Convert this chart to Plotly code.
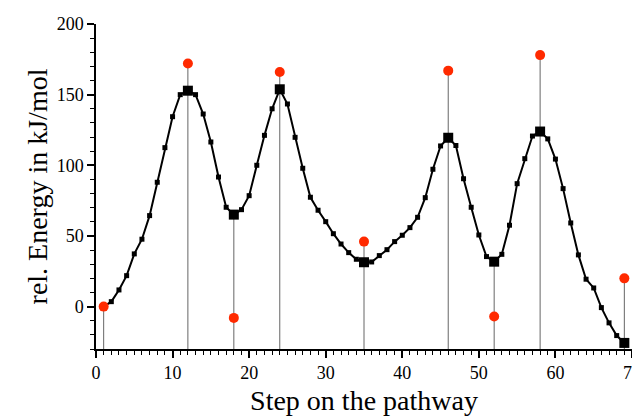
import plotly.graph_objects as go

steps = list(range(1, 70))
energy = [0, 3.5, 11.8, 21.9, 37.3, 47.7, 64.4, 88, 112.5, 134.4,
          150, 152.8, 150, 136.3, 116.5, 91.7, 70.3, 65.1, 68.6, 78.5,
          100, 121.2, 140, 153.8, 143.4, 119.8, 97.9, 77.4, 68.2, 60.1,
          51.6, 44.3, 38.2, 33.5, 31.4, 31.6, 36.1, 40.3, 46, 50.5,
          55.9, 63.2, 77.1, 97.2, 113.7, 119.5, 114, 90.5, 70.3, 50.7,
          35.4, 31.8, 37, 57.6, 87, 104.7, 120.7, 123.9, 118.7, 104.4,
          83.5, 59.2, 36.6, 19.4, 13.2, -0.7, -11.5, -20.5, -25.7]

stat_steps = [12, 18, 24, 35, 46, 52, 58, 69]
ref_steps = [1, 12, 18, 24, 35, 46, 52, 58, 69]
ref_energy = [0, 172, -8, 166, 46, 167, -7, 178, 20]

y_bottom = -30
FONT = "Liberation Serif, Times New Roman, serif"

# vertical drop lines
vx, vy = [], []
for s, r in zip(ref_steps, ref_energy):
    top = max(r, energy[steps.index(s)])
    vx += [s, s, None]
    vy += [top, y_bottom, None]

fig = go.Figure()
fig.add_trace(go.Scatter(x=vx, y=vy, mode="lines",
                         line=dict(color="#666666", width=1),
                         hoverinfo="skip", showlegend=False))
fig.add_trace(go.Scatter(x=steps, y=energy, mode="lines+markers",
                         line=dict(color="black", width=2),
                         marker=dict(symbol="square", size=5, color="black"),
                         showlegend=False))
fig.add_trace(go.Scatter(x=stat_steps,
                         y=[energy[steps.index(s)] for s in stat_steps],
                         mode="markers",
                         marker=dict(symbol="square", size=10, color="black"),
                         cliponaxis=False, showlegend=False))
fig.add_trace(go.Scatter(x=ref_steps, y=ref_energy, mode="markers",
                         marker=dict(symbol="circle", size=10, color="#ff2a00"),
                         cliponaxis=False, showlegend=False))

fig.update_layout(
    width=640, height=419,
    margin=dict(l=88, r=16, t=16, b=78),
    paper_bgcolor="white", plot_bgcolor="white",
    font=dict(family=FONT, color="black"),
)
fig.update_xaxes(range=[0, 70], dtick=10, tick0=0, showgrid=False, zeroline=False,
                 automargin=False,
                 showline=True, linecolor="black", linewidth=1.5,
                 ticks="outside", ticklen=7, tickwidth=1.5, tickcolor="black",
                 tickfont=dict(size=18, family=FONT),
                 minor=dict(dtick=1, ticks="outside", ticklen=4, tickcolor="black", tickwidth=1),
                 title=dict(text="Step on the pathway", font=dict(size=28, family=FONT), standoff=8))
fig.update_yaxes(range=[-30, 200], dtick=50, tick0=0, showgrid=False, zeroline=False,
                 automargin=False,
                 showline=True, linecolor="black", linewidth=1.5,
                 ticks="outside", ticklen=7, tickwidth=1.5, tickcolor="black",
                 tickfont=dict(size=18, family=FONT),
                 minor=dict(dtick=10, ticks="outside", ticklen=4, tickcolor="black", tickwidth=1),
                 title=dict(text="rel. Energy in kJ/mol", font=dict(size=28, family=FONT), standoff=1))

fig.write_html("out.html")
